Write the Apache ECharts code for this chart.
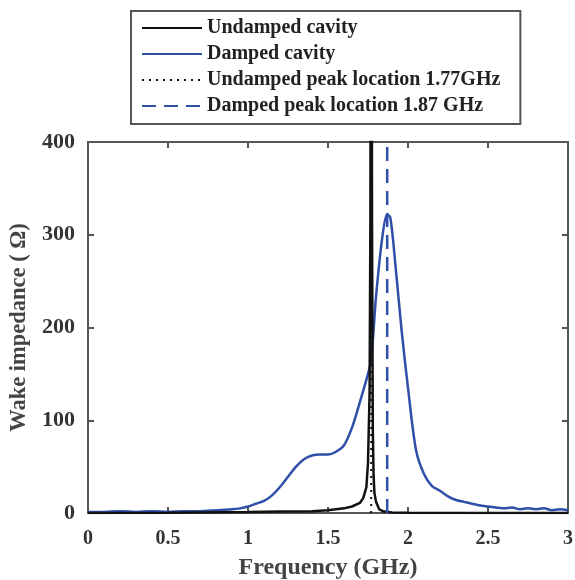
<!DOCTYPE html>
<html>
<head>
<meta charset="utf-8">
<script src="https://cdn.jsdelivr.net/npm/echarts@6/dist/echarts.min.js"></script>
<style>
  html, body { margin: 0; padding: 0; background: #fff; }
  #chart { width: 575px; height: 580px; }
</style>
</head>
<body>
<div id="chart"></div>
<script>
// frequency (GHz) and wake impedance (Ohm)
const dampedFreq = [0, 0.1, 0.2, 0.3, 0.4, 0.5, 0.6, 0.7, 0.8, 0.9, 0.95, 1.0, 1.05, 1.1, 1.15, 1.2, 1.25, 1.3,
  1.35, 1.4, 1.45, 1.5, 1.55, 1.6, 1.65, 1.7, 1.75, 1.77, 1.8, 1.84, 1.87, 1.89, 1.92, 1.96, 2.0, 2.05, 2.1,
  2.15, 2.2, 2.25, 2.3, 2.35, 2.4, 2.45, 2.5, 2.55, 2.6, 2.65, 2.7, 2.75, 2.8, 2.85, 2.9, 2.95, 3.0];
const dampedZ = [1, 1, 2, 1, 2, 1, 2, 2, 3, 4, 5, 7, 10, 13, 19, 28, 39, 50,
  58, 62, 63, 63, 66, 73, 92, 120, 150, 165, 233, 298, 322, 318, 270, 197, 135, 68, 42,
  29, 24, 18, 14, 12, 10, 8, 7, 6, 5, 6, 4, 5, 4, 5, 3, 4, 3];

const undampedFreq = [0, 0.5, 1.0, 1.2, 1.4, 1.5, 1.6, 1.65, 1.7, 1.72, 1.74, 1.75, 1.76, 1.765, 1.77,
  1.775, 1.78, 1.785, 1.79, 1.8, 1.82, 1.85, 1.9, 2.0, 2.5, 3.0];
const undampedZ = [0, 0.3, 1, 1.5, 2, 3, 5, 7, 11, 16, 28, 54, 130, 320, 1000,
  320, 90, 40, 22, 12, 4, 1.5, 0.6, 0.3, 0, 0];

const undampedPeak = 1.77;
const dampedPeak = 1.87;
const zMax = 400;

const blue = '#2f4fa9';
const font = 'Liberation Serif';

const zip = (xs, ys) => xs.map((x, i) => [x, ys[i]]);

const chart = echarts.init(document.getElementById('chart'));

const axisLine = { show: true, onZero: false, lineStyle: { color: '#555', width: 2 } };
const axisTick = { show: true, inside: true, length: 6, lineStyle: { color: '#555', width: 2 } };
const labelStyle = { fontFamily: font, fontWeight: 'bold', fontSize: 21, color: '#333' };
const nameStyle = { fontFamily: font, fontWeight: 'bold', color: '#444' };

chart.setOption({
  animation: false,
  grid: { left: 88, right: 7, top: 142, bottom: 67, outerBoundsMode: 'none' },
  legend: {
    orient: 'vertical',
    left: 131,
    top: 11,
    padding: [7, 20, 8, 10],
    borderColor: '#555',
    borderWidth: 2,
    itemWidth: 60,
    itemHeight: 14,
    itemGap: 6,
    itemStyle: { opacity: 0 },
    textStyle: { fontFamily: font, fontWeight: 'bold', fontSize: 20, lineHeight: 20, color: '#222' },
    data: ['Undamped cavity', 'Damped cavity', 'Undamped peak location 1.77GHz', 'Damped peak location 1.87 GHz']
  },
  xAxis: [{
    type: 'value', min: 0, max: 3, interval: 0.5,
    name: 'Frequency (GHz)', nameLocation: 'middle', nameGap: 43,
    nameTextStyle: Object.assign({ fontSize: 24 }, nameStyle),
    axisLine, axisTick, splitLine: { show: false },
    axisLabel: Object.assign({ margin: 16 }, labelStyle, { fontSize: 20 })
  }, {
    type: 'value', min: 0, max: 3, interval: 0.5, position: 'top',
    axisLine, axisTick, splitLine: { show: false }, axisLabel: { show: false }
  }],
  yAxis: [{
    type: 'value', min: 0, max: zMax, interval: 100,
    name: 'Wake impedance ( Ω)', nameLocation: 'middle', nameGap: 57,
    nameTextStyle: Object.assign({ fontSize: 22.5 }, nameStyle),
    axisLine, axisTick, splitLine: { show: false },
    axisLabel: Object.assign({ margin: 13 }, labelStyle, { fontSize: 22 })
  }, {
    type: 'value', min: 0, max: zMax, interval: 100, position: 'right',
    axisLine, axisTick, splitLine: { show: false }, axisLabel: { show: false }
  }],
  series: [{
    name: 'Undamped cavity',
    type: 'line',
    symbol: 'none',
    clip: true,
    color: '#111',
    lineStyle: { color: '#111', width: 2.5 },
    data: zip(undampedFreq, undampedZ),
    z: 3
  }, {
    name: 'Damped cavity',
    type: 'line',
    symbol: 'none',
    smooth: 0.3,
    color: blue,
    lineStyle: { color: blue, width: 2.5 },
    data: zip(dampedFreq, dampedZ),
    z: 2
  }, {
    name: 'Undamped peak location 1.77GHz',
    type: 'line',
    symbol: 'none',
    color: '#111',
    lineStyle: { color: '#111', width: 2, type: [2, 5] },
    data: [[undampedPeak, 0], [undampedPeak, zMax]],
    z: 4
  }, {
    name: 'Damped peak location 1.87 GHz',
    type: 'line',
    symbol: 'none',
    color: blue,
    lineStyle: { color: blue, width: 2.5, type: [14, 8] },
    data: [[dampedPeak, 0], [dampedPeak, zMax]],
    z: 4
  }]
});
</script>
</body>
</html>
